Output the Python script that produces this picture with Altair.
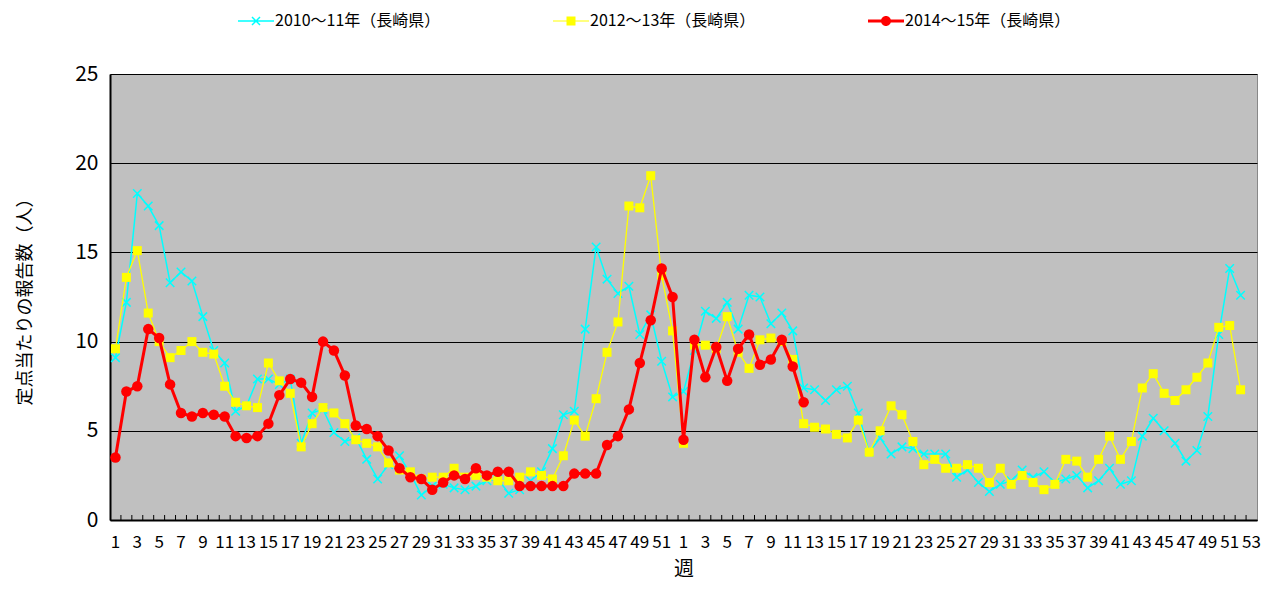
import altair as alt
import pandas as pd

# ---- data ----
weeks_season1 = list(range(1, 53))   # week 1..52
weeks_season2 = list(range(1, 54))   # week 1..53
week_labels = weeks_season1 + weeks_season2

series_names = ["2010～11年（長崎県）", "2012～13年（長崎県）", "2014～15年（長崎県）"]
series_colors = ["#00FFFF", "#FFFF00", "#FF0000"]

s2010_11 = [9.1, 12.2, 18.3, 17.6, 16.5, 13.3, 13.9, 13.4, 11.4, 9.5,
            8.8, 6.1, 6.4, 7.9, 7.9, 7.6, 7.9, 4.3, 6.0, 6.2,
            4.9, 4.4, 4.6, 3.4, 2.3, 3.1, 3.6, 2.6, 1.4, 1.9,
            2.0, 1.8, 1.7, 1.9, 2.2, 2.3, 1.5, 1.7, 2.2, 2.7,
            4.0, 5.9, 6.1, 10.7, 15.3, 13.5, 12.7, 13.1, 10.4, 11.5,
            8.9, 6.9, 7.2, 9.5, 11.7, 11.3, 12.2, 10.7, 12.6, 12.5,
            11.0, 11.6, 10.6, 7.4, 7.3, 6.7, 7.3, 7.5, 6.0, 3.8,
            4.6, 3.7, 4.1, 4.0, 3.7, 3.7, 3.7, 2.4, 2.8, 2.1,
            1.6, 2.0, 2.2, 2.8, 2.4, 2.7, 2.1, 2.3, 2.5, 1.8,
            2.2, 2.9, 2.0, 2.2, 4.7, 5.7, 5.0, 4.3, 3.3, 3.9,
            5.8, 10.4, 14.1, 12.6]

s2012_13 = [9.6, 13.6, 15.1, 11.6, 10.0, 9.1, 9.5, 10.0, 9.4, 9.3,
            7.5, 6.6, 6.4, 6.3, 8.8, 7.8, 7.1, 4.1, 5.4, 6.3,
            6.0, 5.4, 4.5, 4.3, 4.1, 3.2, 2.8, 2.7, 2.3, 2.4,
            2.4, 2.9, 2.4, 2.5, 2.4, 2.2, 2.2, 2.4, 2.7, 2.5,
            2.3, 3.6, 5.6, 4.7, 6.8, 9.4, 11.1, 17.6, 17.5, 19.3,
            13.7, 10.6, 4.3, 9.8, 9.8, 9.6, 11.4, 9.4, 8.5, 10.1,
            10.2, 10.0, 9.0, 5.4, 5.2, 5.1, 4.8, 4.6, 5.6, 3.8,
            5.0, 6.4, 5.9, 4.4, 3.1, 3.4, 2.9, 2.9, 3.1, 2.9,
            2.1, 2.9, 2.0, 2.5, 2.1, 1.7, 2.0, 3.4, 3.3, 2.4,
            3.4, 4.7, 3.4, 4.4, 7.4, 8.2, 7.1, 6.7, 7.3, 8.0,
            8.8, 10.8, 10.9, 7.3]

s2014_15 = [3.5, 7.2, 7.5, 10.7, 10.2, 7.6, 6.0, 5.8, 6.0, 5.9,
            5.8, 4.7, 4.6, 4.7, 5.4, 7.0, 7.9, 7.7, 6.9, 10.0,
            9.5, 8.1, 5.3, 5.1, 4.7, 3.9, 2.9, 2.4, 2.3, 1.7,
            2.1, 2.5, 2.3, 2.9, 2.5, 2.7, 2.7, 1.9, 1.9, 1.9,
            1.9, 1.9, 2.6, 2.6, 2.6, 4.2, 4.7, 6.2, 8.8, 11.2,
            14.1, 12.5, 4.5, 10.1, 8.0, 9.7, 7.8, 9.6, 10.4, 8.7,
            9.0, 10.1, 8.6, 6.6]

y_ticks = [0, 5, 10, 15, 20, 25]

# ---- tables ----
rows = []
for name, vals in zip(series_names, [s2010_11, s2012_13, s2014_15]):
    for i, v in enumerate(vals):
        rows.append({"i": i, "week": week_labels[i], "series": name, "value": v})
df = pd.DataFrame(rows)

n_pos = len(week_labels)
label_df = pd.DataFrame({
    "i": [k for k in range(n_pos) if k % 2 == 0],
    "label": [str(week_labels[k]) for k in range(n_pos) if k % 2 == 0],
})
tick_df = pd.DataFrame({"i": [k + 0.5 for k in range(n_pos - 1)]})

JP_FONT = "Noto Sans CJK JP, sans-serif"

W, H = 1147, 446

x_enc = alt.X(
    "i:Q",
    scale=alt.Scale(domain=[-0.5, n_pos - 0.5], nice=False, zero=False),
    axis=alt.Axis(
        values=[0],
        labels=False,
        ticks=False,
        grid=False,
        domainColor="black",
        domainWidth=2,
        title="週",
        titleFont=JP_FONT,
        titleFontSize=20,
        titleFontWeight="normal",
        titleColor="black",
        titlePadding=39,
    ),
)
y_enc = alt.Y(
    "value:Q",
    scale=alt.Scale(domain=[0, 25], nice=False),
    axis=alt.Axis(
        values=y_ticks,
        grid=True,
        gridColor="black",
        gridWidth=1,
        ticks=False,
        domainColor="black",
        domainWidth=2,
        labelFont=JP_FONT,
        labelFontSize=21,
        labelColor="black",
        labelPadding=12,
        title="定点当たりの報告数（人）",
        titleFont=JP_FONT,
        titleFontSize=18,
        titleFontWeight="normal",
        titleColor="black",
        titlePadding=40,
    ),
)

base = alt.Chart(df)


def sub(name):
    return base.transform_filter(alt.datum.series == name)


cyan_line = sub(series_names[0]).mark_line(color=series_colors[0], strokeWidth=1.5).encode(x=x_enc, y=y_enc)
cyan_pts = sub(series_names[0]).mark_point(
    shape="M-1,-1L1,1M-1,1L1,-1", filled=False, color=series_colors[0],
    size=72, strokeWidth=1.5, opacity=1).encode(x=x_enc, y=y_enc)
yel_line = sub(series_names[1]).mark_line(color=series_colors[1], strokeWidth=1.3).encode(x=x_enc, y=y_enc)
yel_pts = sub(series_names[1]).mark_point(
    shape="square", filled=True, color=series_colors[1], size=81, opacity=1).encode(x=x_enc, y=y_enc)
red_line = sub(series_names[2]).mark_line(color=series_colors[2], strokeWidth=3).encode(x=x_enc, y=y_enc)
red_pts = sub(series_names[2]).mark_point(
    shape="circle", filled=True, color=series_colors[2], size=110, opacity=1).encode(x=x_enc, y=y_enc)

ticks = alt.Chart(tick_df).mark_rule(color="black", strokeWidth=1).encode(
    x=x_enc, y=alt.value(H - 5), y2=alt.value(H))

week_text = alt.Chart(label_df).mark_text(
    baseline="middle", align="center", font=JP_FONT, fontSize=17, color="black"
).encode(x=x_enc, y=alt.value(H + 23), text="label:N")

legend_paths = [
    "M-3.6,-0.15H3.6V0.15H-3.6Z M-0.694,-0.906L0.906,0.694L0.694,0.906L-0.906,-0.694Z "
    "M-0.694,0.906L-0.906,0.694L0.694,-0.906L0.906,-0.694Z",
    "M-3.6,-0.12H3.6V0.12H-3.6Z M-0.9,-0.9H0.9V0.9H-0.9Z",
    "M-3.6,-0.3H3.6V0.3H-3.6Z M1,0A1,1 0 1,1 -1,0A1,1 0 1,1 1,0Z",
]

leg = alt.Legend(
    title=None,
    orient="none",
    legendX=138,
    legendY=-61,
    direction="horizontal",
    symbolSize=100,
    symbolStrokeWidth=0,
    labelFont=JP_FONT,
    labelFontSize=16,
    labelColor="black",
    labelOffset=11,
    columnPadding=112,
    labelLimit=400,
)

legend_layer = base.transform_filter("false").mark_point(filled=True, opacity=1).encode(
    color=alt.Color("series:N", scale=alt.Scale(domain=series_names, range=series_colors), legend=leg),
    shape=alt.Shape("series:N", scale=alt.Scale(domain=series_names, range=legend_paths), legend=leg),
)

chart = alt.layer(
    ticks, cyan_line, cyan_pts, yel_line, yel_pts, red_line, red_pts, week_text, legend_layer
).properties(
    width=W,
    height=H,
    autosize="none",
    padding={"left": 102, "top": 66, "right": 9, "bottom": 61},
    background="white",
    view=alt.ViewBackground(fill="#C0C0C0", stroke="#888888", strokeWidth=1),
).configure_view(
    fill="#C0C0C0",
    stroke="#888888",
    strokeWidth=1,
)

chart.save("out.html", embed_options={"renderer": "svg", "actions": False})
